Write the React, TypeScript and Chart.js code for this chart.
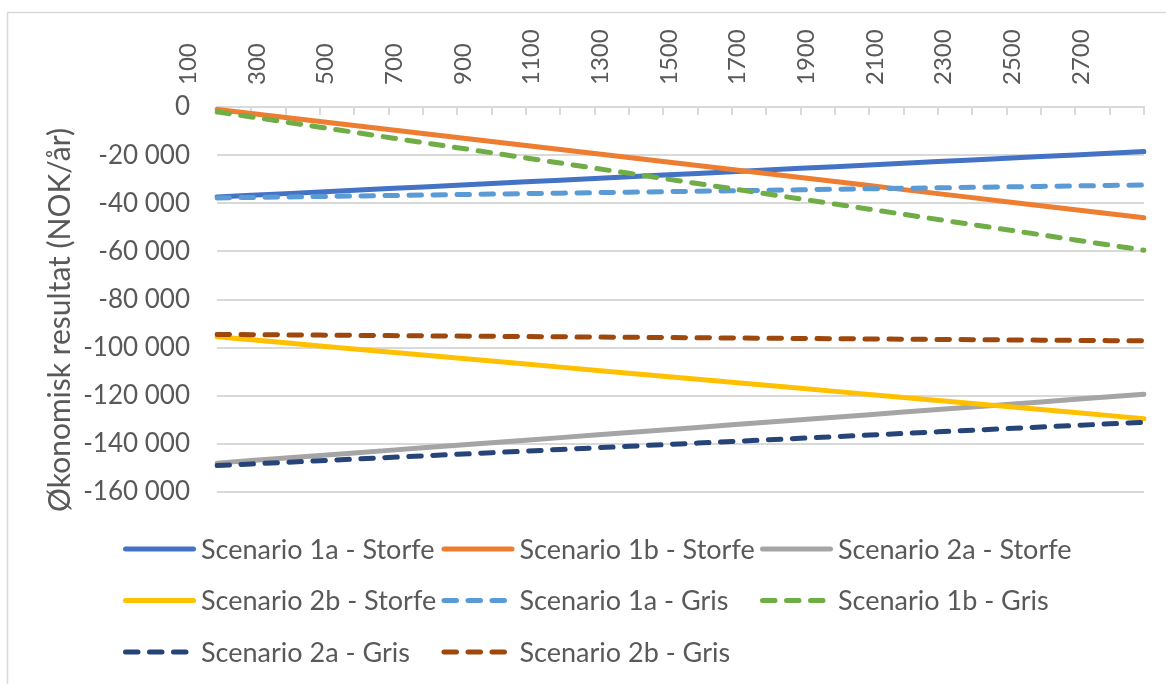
import React, { useEffect, useRef } from 'react';
import { Chart, registerables } from 'chart.js';

Chart.register(...registerables);

const categories = ['100', '200', '300', '400', '500', '600', '700', '800', '900', '1000', '1100', '1200', '1300', '1400', '1500', '1600', '1700', '1800', '1900', '2000', '2100', '2200', '2300', '2400', '2500', '2600', '2700', '2800'];

const seriesNames = [
  'Scenario 1a - Storfe',
  'Scenario 1b - Storfe',
  'Scenario 2a - Storfe',
  'Scenario 2b - Storfe',
  'Scenario 1a - Gris',
  'Scenario 1b - Gris',
  'Scenario 2a - Gris',
  'Scenario 2b - Gris',
];

const s1aStorfe = [-37400, -36700, -36000, -35300, -34600, -33900, -33200, -32500, -31800, -31100, -30400, -29700, -29000, -28300, -27600, -26900, -26200, -25500, -24800, -24100, -23400, -22700, -22000, -21300, -20600, -19900, -19200, -18500];
const s1bStorfe = [-1000, -2667, -4333, -6000, -7667, -9333, -11000, -12667, -14333, -16000, -17667, -19333, -21000, -22667, -24333, -26000, -27667, -29333, -31000, -32667, -34333, -36000, -37667, -39333, -41000, -42667, -44333, -46000];
const s2aStorfe = [-148000, -146940, -145880, -144820, -143760, -142700, -141640, -140580, -139520, -138460, -137400, -136340, -135280, -134220, -133160, -132100, -131040, -129980, -128920, -127860, -126800, -125740, -124680, -123620, -122560, -121500, -120440, -119380];
const s2bStorfe = [-95500, -96760, -98020, -99280, -100540, -101800, -103060, -104320, -105580, -106840, -108100, -109360, -110620, -111880, -113140, -114400, -115660, -116920, -118180, -119440, -120700, -121960, -123220, -124480, -125740, -127000, -128260, -129520];
const s1aGris = [-37800, -37600, -37400, -37200, -37000, -36800, -36600, -36400, -36200, -36000, -35800, -35600, -35400, -35200, -35000, -34800, -34600, -34400, -34200, -34000, -33800, -33600, -33400, -33200, -33000, -32800, -32600, -32400];
const s1bGris = [-2000, -4130, -6260, -8390, -10520, -12650, -14780, -16910, -19040, -21170, -23300, -25430, -27560, -29690, -31820, -33950, -36080, -38210, -40340, -42470, -44600, -46730, -48860, -50990, -53120, -55250, -57380, -59510];
const s2aGris = [-149000, -148333, -147667, -147000, -146333, -145667, -145000, -144333, -143667, -143000, -142333, -141667, -141000, -140333, -139667, -139000, -138333, -137667, -137000, -136333, -135667, -135000, -134333, -133667, -133000, -132333, -131667, -131000];
const s2bGris = [-94500, -94600, -94700, -94800, -94900, -95000, -95100, -95200, -95300, -95400, -95500, -95600, -95700, -95800, -95900, -96000, -96100, -96200, -96300, -96400, -96500, -96600, -96700, -96800, -96900, -97000, -97100, -97200];

const seriesValues = [s1aStorfe, s1bStorfe, s2aStorfe, s2bStorfe, s1aGris, s1bGris, s2aGris, s2bGris];
const seriesColors = ['#4472C4', '#ED7D31', '#A5A5A5', '#FFC000', '#5B9BD5', '#70AD47', '#264478', '#9E480E'];
const seriesDashed = [false, false, false, false, true, true, true, true];

const yTitle = 'Økonomisk resultat (NOK/år)';
const yMin = -160000;
const yMax = 0;
const yStep = 20000;

const FONT = 'Lato, "Open Sans", sans-serif';
const TEXT = '#595959';
const GRID = '#d9d9d9';
const DASH = [12.5, 11.5];

function fmt(v: number): string {
  if (v === 0) return '0';
  const s = Math.abs(v).toString().replace(/\B(?=(\d{3})+(?!\d))/g, ' ');
  return (v < 0 ? '-' : '') + s;
}

const decorPlugin = {
  id: 'decor',
  beforeDraw(chart: any) {
    const ctx = chart.ctx;
    ctx.save();
    ctx.fillStyle = '#ffffff';
    ctx.fillRect(0, 0, chart.width, chart.height);
    ctx.strokeStyle = GRID;
    ctx.lineWidth = 1.5;
    ctx.strokeRect(7.5, 12.5, 3000, 3000);
    ctx.restore();
  },
  beforeDatasetsDraw(chart: any) {
    const ctx = chart.ctx;
    const xs = chart.scales.x;
    const top = chart.chartArea.top;
    ctx.save();
    ctx.strokeStyle = GRID;
    ctx.lineWidth = 2;
    for (let i = 0; i < xs.ticks.length; i++) {
      const px = Math.round(xs.getPixelForTick(i));
      ctx.beginPath();
      ctx.moveTo(px, top);
      ctx.lineTo(px, top + 8);
      ctx.stroke();
    }
    ctx.restore();
  },
  afterDraw(chart: any) {
    const ctx = chart.ctx;
    ctx.save();
    ctx.fillStyle = TEXT;
    ctx.font = '30px ' + FONT;
    ctx.textAlign = 'center';
    ctx.textBaseline = 'middle';
    ctx.translate(60, 320);
    ctx.rotate(-Math.PI / 2);
    ctx.fillText(yTitle, 0, 0);
    ctx.restore();

    ctx.save();
    chart.data.datasets.forEach((ds: any, i: number) => {
      const col = i % 3;
      const row = Math.floor(i / 3);
      const x0 = 123 + col * 318.5;
      const y = 549 + row * 51.5;
      const dashed = ds.borderDash && ds.borderDash.length;
      ctx.strokeStyle = ds.borderColor;
      ctx.lineWidth = 5;
      ctx.lineCap = 'round';
      ctx.setLineDash(dashed ? DASH : []);
      ctx.beginPath();
      ctx.moveTo(x0 + 2.5, y);
      ctx.lineTo(x0 + 70.5, y);
      ctx.stroke();
      ctx.setLineDash([]);
      ctx.fillStyle = TEXT;
      ctx.font = '27px ' + FONT;
      ctx.textAlign = 'left';
      ctx.textBaseline = 'middle';
      ctx.fillText(ds.label, x0 + 78, y + 1);
    });
    ctx.restore();
  },
};

export default function App() {
  const ref = useRef<HTMLCanvasElement | null>(null);

  useEffect(() => {
    if (!ref.current) return;
    const datasets = seriesNames.map((name, i) => ({
      label: name,
      data: seriesValues[i],
      borderColor: seriesColors[i],
      backgroundColor: seriesColors[i],
      borderWidth: 5,
      borderDash: seriesDashed[i] ? DASH : [],
      borderCapStyle: 'round' as const,
      borderJoinStyle: 'round' as const,
      pointRadius: 0,
      pointHoverRadius: 0,
      tension: 0,
      fill: false,
      order: -i,
    }));

    const chart = new Chart(ref.current, {
      type: 'line',
      data: { labels: categories, datasets },
      plugins: [decorPlugin],
      options: {
        responsive: false,
        animation: false,
        events: [],
        layout: { padding: { left: 0, top: 0, right: 18, bottom: 192 } },
        plugins: {
          legend: { display: false },
          tooltip: { enabled: false },
          title: { display: false },
        },
        scales: {
          x: {
            type: 'category',
            position: 'top',
            offset: false,
            grid: { display: false, drawTicks: false },
            border: { display: true, color: GRID, width: 2 },
            ticks: {
              autoSkip: false,
              maxRotation: 90,
              minRotation: 90,
              padding: 22,
              color: TEXT,
              font: { family: FONT, size: 24 },
              callback: (_v: any, idx: number) => (idx % 2 === 0 ? categories[idx] : ''),
            },
            afterFit: (s: any) => {
              s.height = 107;
            },
          },
          y: {
            min: yMin,
            max: yMax,
            grid: { color: GRID, lineWidth: 2, drawTicks: false },
            border: { display: false },
            ticks: {
              stepSize: yStep,
              padding: 27,
              color: TEXT,
              font: { family: FONT, size: 26 },
              callback: (v: any) => fmt(Number(v)),
            },
            afterFit: (s: any) => {
              s.width = 217;
            },
          },
        },
      },
    });
    return () => chart.destroy();
  }, []);

  return (
    <div style={{ position: 'fixed', left: 0, top: 0, width: 1166, height: 684, background: '#fff', overflow: 'hidden' }}>
      <canvas ref={ref} width={1166} height={684} style={{ display: 'block' }} />
    </div>
  );
}
